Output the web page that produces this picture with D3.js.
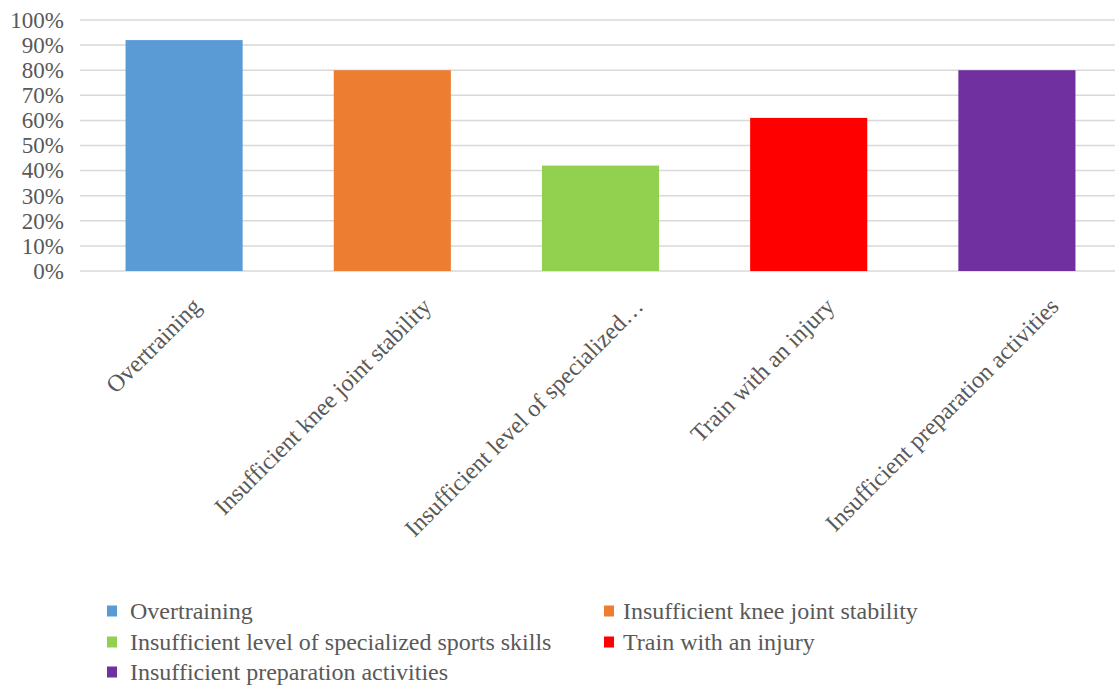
<!DOCTYPE html>
<html>
<head>
<meta charset="utf-8">
<script src="https://cdn.jsdelivr.net/npm/d3@7"></script>
<style>
  html, body { margin: 0; padding: 0; background: #fff; }
  svg { display: block; font-family: "Liberation Serif", "Times New Roman", serif; }
</style>
</head>
<body>
<svg id="chart" width="1115" height="686"></svg>
<script>
// Injury causes and the share of respondents citing each (%)
const categories = [
  "Overtraining",
  "Insufficient knee joint stability",
  "Insufficient level of specialized sports skills",
  "Train with an injury",
  "Insufficient preparation activities"
];
const axisLabels = [
  "Overtraining",
  "Insufficient knee joint stability",
  "Insufficient level of specialized…",
  "Train with an injury",
  "Insufficient preparation activities"
];
const values = [92, 80, 42, 61, 80];
const colors = ["#5B9BD5", "#ED7D31", "#92D050", "#FF0000", "#7030A0"];
const yTicks = [0, 10, 20, 30, 40, 50, 60, 70, 80, 90, 100];

const svg = d3.select("#chart");
const plot = { left: 80, right: 1121, top: 20, bottom: 271 };
const textColor = "#595959";

const x = d3.scaleBand()
  .domain(categories)
  .range([plot.left, plot.right])
  .paddingInner(0.4375)
  .paddingOuter(0.21875);

const y = d3.scaleLinear()
  .domain([0, 100])
  .range([plot.bottom, plot.top]);

// Horizontal gridlines
svg.append("g")
  .selectAll("line")
  .data(yTicks)
  .join("line")
  .attr("x1", plot.left)
  .attr("x2", plot.right)
  .attr("y1", d => y(d))
  .attr("y2", d => y(d))
  .attr("stroke", "#d9d9d9")
  .attr("stroke-width", 1.5);

// Y axis labels
const yAxis = d3.axisLeft(y)
  .tickValues(yTicks)
  .tickFormat(d => d + "%")
  .tickSize(0)
  .tickPadding(0);
const yg = svg.append("g")
  .attr("transform", `translate(${plot.left - 16},0)`)
  .call(yAxis);
yg.select(".domain").remove();
yg.selectAll("text")
  .attr("fill", textColor)
  .attr("font-size", 23)
  .attr("font-family", "Liberation Serif, serif");

// Bars
svg.append("g")
  .selectAll("rect")
  .data(values)
  .join("rect")
  .attr("x", (d, i) => x(categories[i]))
  .attr("y", d => y(d))
  .attr("width", x.bandwidth())
  .attr("height", d => y(0) - y(d))
  .attr("fill", (d, i) => colors[i]);

// Rotated category labels: longer labels sit slightly further right of the bar centre
const catLabels = svg.append("g")
  .selectAll("text")
  .data(categories)
  .join("text")
  .attr("text-anchor", "end")
  .attr("dy", "0.7em")
  .attr("fill", textColor)
  .attr("font-size", 24)
  .text((d, i) => axisLabels[i]);
catLabels.attr("transform", function(d) {
  const len = this.getComputedTextLength();
  const shift = -9 + 0.127 * len;
  return `translate(${x(d) + x.bandwidth() / 2 + shift},${plot.bottom + 25}) rotate(-45)`;
});

// Legend
const legendPos = [
  [107, 611], [604, 611],
  [107, 642], [604, 642],
  [107, 672]
];
const legend = svg.append("g")
  .selectAll("g")
  .data(categories)
  .join("g")
  .attr("transform", (d, i) => `translate(${legendPos[i][0]},${legendPos[i][1]})`);
legend.append("rect")
  .attr("x", 0)
  .attr("y", -5.5)
  .attr("width", 10)
  .attr("height", 11)
  .attr("fill", (d, i) => colors[i]);
legend.append("text")
  .attr("dx", (d, i) => (i % 2 === 1 ? 19 : 23))
  .attr("y", 0)
  .attr("dy", "0.35em")
  .attr("fill", textColor)
  .attr("font-size", 24)
  .text(d => d);
</script>
</body>
</html>
